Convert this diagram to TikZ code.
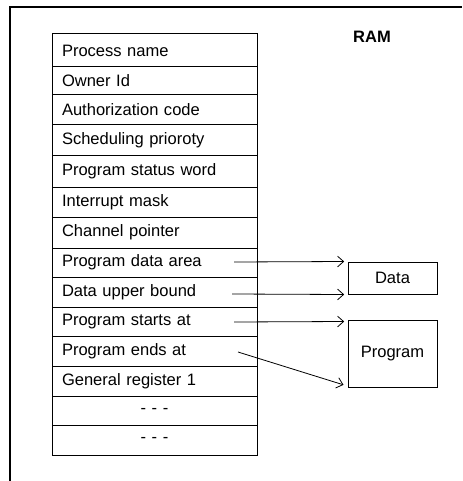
\documentclass[tikz,border=0pt]{standalone}
\usepackage{fontspec}
\setmainfont{Liberation Sans}
\usetikzlibrary{arrows.meta, positioning}

\tikzset{
  field/.style={draw, line width=0.75pt, text width=138.75pt, align=left, inner xsep=7.5pt, inner ysep=0pt, outer sep=0pt, font=\fontsize{12.4}{14}\selectfont},
  filler/.style={field, align=center},
  store/.style={draw, line width=0.75pt, minimum width=66.75pt, inner sep=0pt, font=\fontsize{12.4}{14}\selectfont},
  ptr/.style={-{Straight Barb[length=4.5pt, width=8pt]}, line width=0.6pt}
}

\begin{document}
\begin{tikzpicture}[x=0.75pt, y=-0.75pt]
  \useasboundingbox (0,0) rectangle (462,481);

  % Frame
  \draw[line width=1.5pt] (10,481) -- (10,7) -- (462,7);
  \node[font=\bfseries\fontsize{12.4}{14}\selectfont] (ram) at (372,37) {RAM};

  % Process control block
  \node[field, minimum height=24.75pt, anchor=north west] (pname) at (52,34) {Process name};
  \node[field, minimum height=21pt, below=0pt of pname] (owner) {Owner Id};
  \node[field, minimum height=22.5pt, below=0pt of owner] (auth) {Authorization code};
  \node[field, minimum height=22.5pt, below=0pt of auth] (sched) {Scheduling prioroty};
  \node[field, minimum height=24pt, below=0pt of sched] (psw) {Program status word};
  \node[field, minimum height=22.5pt, below=0pt of psw] (imask) {Interrupt mask};
  \node[field, minimum height=23.25pt, below=0pt of imask] (chan) {Channel pointer};
  \node[field, minimum height=21.75pt, below=0pt of chan] (pda) {Program data area};
  \node[field, minimum height=22.5pt, below=0pt of pda] (dub) {Data upper bound};
  \node[field, minimum height=21.75pt, below=0pt of dub] (pstart) {Program starts at};
  \node[field, minimum height=22.5pt, below=0pt of pstart] (pend) {Program ends at};
  \node[field, minimum height=22.5pt, below=0pt of pend] (greg) {General register 1};
  \node[filler, minimum height=21.75pt, below=0pt of greg] (more1) {- - -};
  \node[filler, minimum height=22.5pt, below=0pt of more1] (more2) {- - -};

  % Memory areas
  \node[store, minimum height=24pt] (data) at (392.5,278) {Data};
  \node[store, minimum height=50.25pt] (prog) at (392.5,353.5) {Program};

  % Pointers
  \coordinate (pdaptr) at (234,262);
  \coordinate (dubptr) at (232,294);
  \coordinate (pstartptr) at (234,322);
  \coordinate (pendptr) at (238,352);
  \draw[ptr] (pdaptr) -- ([xshift=-2.5pt]data.north west);
  \draw[ptr] (dubptr) -- ([xshift=-2.5pt]data.south west);
  \draw[ptr] (pstartptr) -- ([xshift=-2.5pt, yshift=-1.5pt]prog.north west);
  \draw[ptr] (pendptr) -- ([xshift=-3pt, yshift=2pt]prog.south west);
\end{tikzpicture}
\end{document}
